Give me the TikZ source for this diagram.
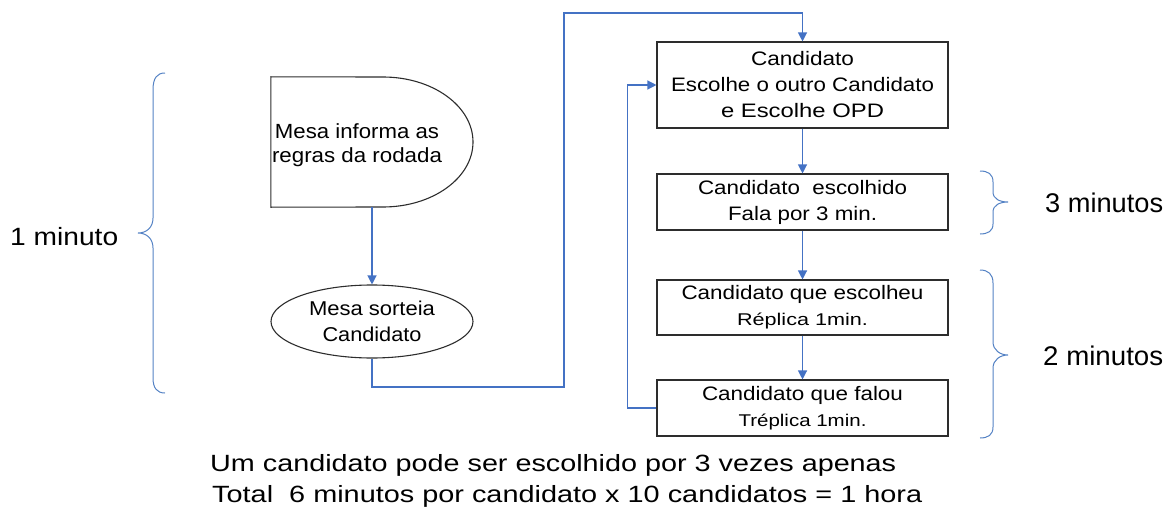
\documentclass[tikz,border=0pt]{standalone}
\usepackage{fontspec}
\setmainfont{Liberation Sans}
\usepackage{graphicx}
\usetikzlibrary{shapes.geometric,arrows.meta}
\definecolor{conn}{RGB}{68,114,196}
\definecolor{brc}{RGB}{84,130,196}
\definecolor{edge}{RGB}{45,45,45}
\newcommand{\fw}[2]{\resizebox{#1pt}{\height}{#2}}
\begin{document}
\begin{tikzpicture}[x=1pt,y=-1pt,
  stepbox/.style={draw=edge,line width=1.1pt,rectangle,minimum width=291pt,inner sep=0pt,align=center,font=\fontsize{19.5}{26}\selectfont},
  shapeline/.style={draw=edge,line width=1.1pt},
  flow/.style={draw=conn,line width=1.2pt,-{Triangle[length=9pt,width=9pt]}},
  bracestyle/.style={draw=brc,line width=1pt},
  lbl/.style={inner sep=0pt,anchor=base west}
]
\useasboundingbox (0,0) rectangle (1174,508);

% D shaped box (delay)
\node[minimum width=202pt,minimum height=130pt,inner sep=0pt] (inform) at (372,142) {};
\draw[shapeline] (inform.north west) -- (383,77) .. controls (432.7,77) and (473,106.1) .. (473,142)
   .. controls (473,177.9) and (432.7,207) .. (383,207) -- (inform.south west) -- cycle;
\node[inner sep=0pt,align=center,font=\fontsize{20.5}{24}\selectfont] (informtext) at (357,145)
   {\fw{164}{Mesa informa as}\\\fw{170}{regras da rodada}};

% ellipse
\node[shapeline,ellipse,minimum width=202pt,minimum height=73pt,inner sep=0pt,align=center,
      font=\fontsize{20}{26}\selectfont] (sorteia) at (372,321.5)
   {\fw{126}{Mesa sorteia}\\\fw{99}{Candidato}};

% boxes
\node[stepbox,minimum height=86pt] (box1) at (802.5,85)
   {\fw{103}{Candidato}\\\fw{263}{Escolhe o outro Candidato}\\\fw{163}{e Escolhe OPD}};
\node[stepbox,minimum height=56pt] (box2) at (802.5,202)
   {\fw{209}{Candidato\ \ escolhido}\\\fw{149}{Fala por 3 min.}};
\node[stepbox,minimum height=55pt] (box3) at (802.5,307.5)
   {\fw{242}{Candidato que escolheu}\\\fw{131}{\fontsize{17}{26}\selectfont Réplica 1min.}};
\node[stepbox,minimum height=56pt] (box4) at (802.5,408)
   {\fw{201}{Candidato que falou}\\\fw{128}{\fontsize{17}{26}\selectfont Tréplica 1min.}};

% connectors
\coordinate (c1) at (564,387);
\coordinate (c2) at (564,13);
\draw[flow] (inform.south) -- (sorteia.north);
\draw[flow] (sorteia.south) |- (c1) -- (c2) -| (box1.north);
\draw[flow] (box1.south) -- (box2.north);
\draw[flow] (box2.south) -- (box3.north);
\draw[flow] (box3.south) -- (box4.north);
\draw[flow] (box4.west) -- ++(-29,0) |- (box1.west);

% braces
\draw[bracestyle] (165,73) .. controls (157,73) and (153,78) .. (153,90) -- (153,218)
   .. controls (153,228) and (146,233) .. (138,233) .. controls (146,233) and (153,238) .. (153,248)
   -- (153,378) .. controls (153,388) and (157,393) .. (165,393);
\draw[bracestyle] (980,171) .. controls (988,171) and (993,174) .. (993,182) -- (993,192)
   .. controls (993,199) and (1000,202) .. (1008,202) .. controls (1000,202) and (993,205) .. (993,212)
   -- (993,224) .. controls (993,231) and (988,234) .. (980,234);
\draw[bracestyle] (980,270) .. controls (988,270) and (993,274) .. (993,283) -- (993,342)
   .. controls (993,350) and (1000,355) .. (1008,355) .. controls (1000,355) and (993,360) .. (993,368)
   -- (993,427) .. controls (993,435) and (988,438) .. (980,438);

% labels
\node[lbl,font=\fontsize{25}{30}\selectfont] (m1) at (10,245) {\fw{108}{1 minuto}};
\node[lbl,font=\fontsize{27}{30}\selectfont] (m3) at (1045,212) {\fw{118}{3 minutos}};
\node[lbl,font=\fontsize{27}{30}\selectfont] (m2) at (1043,365) {\fw{120}{2 minutos}};
\node[lbl,font=\fontsize{23.5}{28}\selectfont] (note1) at (210,471)
   {\fw{686}{Um candidato pode ser escolhido por 3 vezes apenas}};
\node[lbl,font=\fontsize{23.5}{28}\selectfont] (note2) at (212,502)
   {\fw{710}{Total\ \ 6 minutos por candidato x 10 candidatos = 1 hora}};
\end{tikzpicture}
\end{document}
